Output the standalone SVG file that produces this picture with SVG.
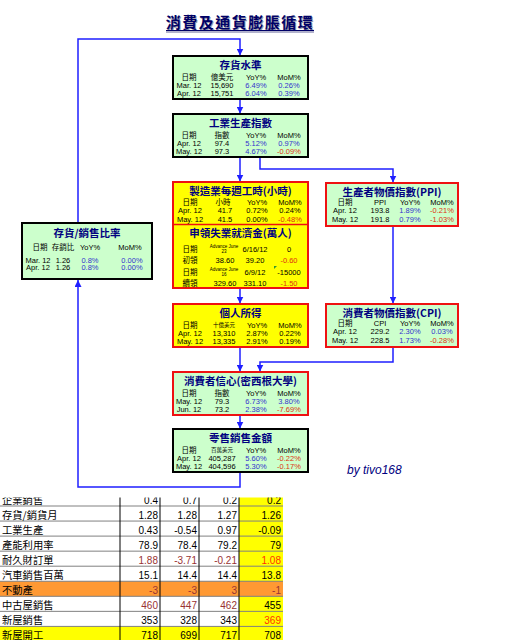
<svg xmlns="http://www.w3.org/2000/svg" width="528" height="640" viewBox="0 0 528 640">
<defs>
<style>
.bg{fill:#ccffcc;stroke:#000;stroke-width:2}
.bgr{fill:#ccffcc;stroke:#ee1111;stroke-width:2}
.by{fill:#ffff00;stroke:#ee1111;stroke-width:2}
.t{font-family:"Noto Sans CJK TC",sans-serif;font-weight:bold;font-size:10.5px;fill:#000080;text-anchor:middle}
.h{font-family:"Liberation Sans","Noto Sans CJK TC",sans-serif;font-size:7.5px;fill:#000;text-anchor:middle}
.tiny{font-family:"Liberation Sans","Noto Sans CJK TC",sans-serif;font-size:4.5px;fill:#000;text-anchor:middle}
.b{fill:#3333cc}
.r{fill:#dd3311}
.con{fill:none;stroke:#1f1fff;stroke-width:1.5;marker-end:url(#ah)}
.lab{font-family:"Noto Sans CJK TC",sans-serif;font-size:10.3px;fill:#000}
.num{font-family:"Liberation Sans",sans-serif;font-size:10px;fill:#000;text-anchor:end}
.dr{fill:#993333}
.or{fill:#ff3300}
.rl{stroke:#808080;stroke-width:1}
.vl{stroke:#000;stroke-width:1}
</style>
<marker id="ah" markerWidth="7" markerHeight="7" refX="7" refY="3.5" orient="auto" markerUnits="userSpaceOnUse">
<path d="M0,0 L7,3.5 L0,7 z" fill="#1f1fff"/>
</marker>
<clipPath id="tc"><rect x="0" y="497.5" width="528" height="143"/></clipPath>
</defs>
<rect width="528" height="640" fill="#fff"/>

<g id="title">
<text x="241" y="29" font-family="'Noto Sans CJK TC',sans-serif" font-weight="bold" font-size="15" letter-spacing="1.5" fill="#9999aa" text-anchor="middle">消費及通貨膨脹循環</text>
<text x="240" y="28" font-family="'Noto Sans CJK TC',sans-serif" font-weight="bold" font-size="15" letter-spacing="1.5" fill="#000066" text-anchor="middle">消費及通貨膨脹循環</text>
<line x1="166" y1="32" x2="314" y2="32" stroke="#9999bb" stroke-width="1.5"/>
<line x1="166" y1="30.5" x2="314" y2="30.5" stroke="#000066" stroke-width="1.2"/>
</g>

<g id="connectors">
<path class="con" d="M78,223 V39 H240 V55.5"/>
<path class="con" d="M240,99 V113.5"/>
<path class="con" d="M240,157 V181.5"/>
<path class="con" d="M260,157 V169 H393 V182.5"/>
<path class="con" d="M393,226 V303.5"/>
<path class="con" d="M240,288 V303.5"/>
<path class="con" d="M240,347 V371.5"/>
<path class="con" d="M393,347 V362 H260 V371.5"/>
<path class="con" d="M240,415 V428.5"/>
<path class="con" d="M240,472 V487 H78 V280"/>
</g>

<g id="inventory-level">
<rect class="bg" x="173" y="56" width="135" height="43"/>
<text class="t" x="240.5" y="69">存貨水準</text>
<text class="h" y="79.5"><tspan x="189">日期</tspan><tspan x="222">億美元</tspan><tspan x="256">YoY%</tspan><tspan x="289">MoM%</tspan></text>
<text class="h" y="87.5"><tspan x="189">Mar. 12</tspan><tspan x="222">15,690</tspan><tspan x="256" class="b">6.49%</tspan><tspan x="289" class="b">0.26%</tspan></text>
<text class="h" y="96"><tspan x="189">Apr. 12</tspan><tspan x="222">15,751</tspan><tspan x="256" class="b">6.04%</tspan><tspan x="289" class="b">0.39%</tspan></text>
</g>

<g id="industrial-production">
<rect class="bg" x="173" y="114" width="135" height="43"/>
<text class="t" x="240.5" y="127">工業生產指數</text>
<text class="h" y="137.5"><tspan x="189">日期</tspan><tspan x="222">指數</tspan><tspan x="256">YoY%</tspan><tspan x="289">MoM%</tspan></text>
<text class="h" y="145.5"><tspan x="189">Apr. 12</tspan><tspan x="222">97.4</tspan><tspan x="256" class="b">5.12%</tspan><tspan x="289" class="b">0.97%</tspan></text>
<text class="h" y="154"><tspan x="189">May. 12</tspan><tspan x="222">97.3</tspan><tspan x="256" class="b">4.67%</tspan><tspan x="289" class="r">-0.09%</tspan></text>
</g>

<g id="hours-claims">
<rect class="by" x="173" y="182" width="135" height="106"/>
<line x1="173" y1="224.5" x2="308" y2="224.5" stroke="#ee1111" stroke-width="1.5"/>
<text class="t" x="240.5" y="194.5">製造業每週工時(小時)</text>
<text class="h" y="204.5"><tspan x="190">日期</tspan><tspan x="223">小時</tspan><tspan x="257">YoY%</tspan><tspan x="290">MoM%</tspan></text>
<text class="h" y="213"><tspan x="190">Apr. 12</tspan><tspan x="225">41.7</tspan><tspan x="257">0.72%</tspan><tspan x="290">0.24%</tspan></text>
<text class="h" y="221.5"><tspan x="190">May. 12</tspan><tspan x="225">41.5</tspan><tspan x="257">0.00%</tspan><tspan x="290" class="r">-0.48%</tspan></text>
<text class="t" x="240.5" y="237">申領失業就濟金(萬人)</text>
<text class="h" y="252"><tspan x="190">日期</tspan><tspan x="255">6/16/12</tspan><tspan x="289">0</tspan></text>
<text class="tiny" y="248"><tspan x="224">Advance June</tspan><tspan x="224" dy="5">23</tspan></text>
<text class="h" y="263"><tspan x="190">初領</tspan><tspan x="225">38.60</tspan><tspan x="255">39.20</tspan><tspan x="289" class="r">-0.60</tspan></text>
<text class="h" y="274.5"><tspan x="190">日期</tspan><tspan x="255">6/9/12</tspan><tspan x="289">-15000</tspan></text>
<text class="tiny" y="270.5"><tspan x="224">Advance June</tspan><tspan x="224" dy="5">16</tspan></text>
<polygon points="274,266 277,266 274,269" fill="#339933"/>
<text class="h" y="285.5"><tspan x="190">續領</tspan><tspan x="225">329.60</tspan><tspan x="255">331.10</tspan><tspan x="289" class="r">-1.50</tspan></text>
</g>

<g id="personal-income">
<rect class="by" x="173" y="304" width="135" height="43"/>
<text class="t" x="240.5" y="317">個人所得</text>
<text class="h" y="327.5"><tspan x="190">日期</tspan><tspan x="257">YoY%</tspan><tspan x="290">MoM%</tspan></text>
<text class="h" y="327" style="font-size:5.5px"><tspan x="224">十億美元</tspan></text>
<text class="h" y="335.5"><tspan x="190">Apr. 12</tspan><tspan x="224">13,310</tspan><tspan x="257">2.87%</tspan><tspan x="290">0.22%</tspan></text>
<text class="h" y="344"><tspan x="190">May. 12</tspan><tspan x="224">13,335</tspan><tspan x="257">2.91%</tspan><tspan x="290">0.19%</tspan></text>
</g>

<g id="ppi">
<rect class="bgr" x="326" y="183" width="132" height="43"/>
<text class="t" x="392" y="195.5">生產者物價指數(PPI)</text>
<text class="h" y="204.5"><tspan x="345">日期</tspan><tspan x="380">PPI</tspan><tspan x="410">YoY%</tspan><tspan x="442">MoM%</tspan></text>
<text class="h" y="213"><tspan x="345">Apr. 12</tspan><tspan x="380">193.8</tspan><tspan x="410" class="b">1.89%</tspan><tspan x="442" class="r">-0.21%</tspan></text>
<text class="h" y="221.5"><tspan x="345">May. 12</tspan><tspan x="380">191.8</tspan><tspan x="410" class="b">0.79%</tspan><tspan x="442" class="r">-1.03%</tspan></text>
</g>

<g id="cpi">
<rect class="bgr" x="326" y="304" width="132" height="43"/>
<text class="t" x="392" y="316.5">消費者物價指數(CPI)</text>
<text class="h" y="325.5"><tspan x="345">日期</tspan><tspan x="380">CPI</tspan><tspan x="410">YoY%</tspan><tspan x="442">MoM%</tspan></text>
<text class="h" y="334"><tspan x="345">Apr. 12</tspan><tspan x="380">229.2</tspan><tspan x="410" class="b">2.30%</tspan><tspan x="442" class="b">0.03%</tspan></text>
<text class="h" y="342.5"><tspan x="345">May. 12</tspan><tspan x="380">228.5</tspan><tspan x="410" class="b">1.73%</tspan><tspan x="442" class="r">-0.28%</tspan></text>
</g>

<g id="consumer-sentiment">
<rect class="bgr" x="173" y="372" width="135" height="43"/>
<text class="t" x="240.5" y="385">消費者信心(密西根大學)</text>
<text class="h" y="395.5"><tspan x="189">日期</tspan><tspan x="222">指數</tspan><tspan x="256">YoY%</tspan><tspan x="289">MoM%</tspan></text>
<text class="h" y="403.5"><tspan x="189">May. 12</tspan><tspan x="222">79.3</tspan><tspan x="256" class="b">6.73%</tspan><tspan x="289" class="b">3.80%</tspan></text>
<text class="h" y="412"><tspan x="189">Jun. 12</tspan><tspan x="222">73.2</tspan><tspan x="256" class="b">2.38%</tspan><tspan x="289" class="r">-7.69%</tspan></text>
</g>

<g id="retail-sales">
<rect class="bg" x="173" y="429" width="135" height="43"/>
<text class="t" x="240.5" y="442">零售銷售金額</text>
<text class="h" y="452.5"><tspan x="189">日期</tspan><tspan x="256">YoY%</tspan><tspan x="289">MoM%</tspan></text>
<text class="h" y="452" style="font-size:5.5px"><tspan x="222">百萬美元</tspan></text>
<text class="h" y="460.5"><tspan x="189">Apr. 12</tspan><tspan x="222">405,287</tspan><tspan x="256" class="b">5.60%</tspan><tspan x="289" class="r">-0.22%</tspan></text>
<text class="h" y="469"><tspan x="189">May. 12</tspan><tspan x="222">404,596</tspan><tspan x="256" class="b">5.30%</tspan><tspan x="289" class="r">-0.17%</tspan></text>
</g>

<g id="inventory-sales-ratio">
<rect class="bg" x="22" y="223" width="130" height="56"/>
<text class="t" x="87" y="237">存貨/銷售比率</text>
<text class="h" y="250"><tspan x="40">日期</tspan><tspan x="63">存銷比</tspan><tspan x="90">YoY%</tspan><tspan x="130">MoM%</tspan></text>
<text class="h" y="262.5"><tspan x="38">Mar. 12</tspan><tspan x="63">1.26</tspan><tspan x="90" class="b">0.8%</tspan><tspan x="132" class="b">0.00%</tspan></text>
<text class="h" y="270"><tspan x="38">Apr. 12</tspan><tspan x="63">1.26</tspan><tspan x="90" class="b">0.8%</tspan><tspan x="132" class="b">0.00%</tspan></text>
</g>

<text x="347" y="474" font-family="'Liberation Sans',sans-serif" font-style="italic" font-size="12" fill="#000080">by tivo168</text>

<g id="table" clip-path="url(#tc)">
<rect x="239" y="491" width="44" height="150" fill="#ffff00"/>
<rect x="0" y="581.25" width="283" height="15.05" fill="#ff9933"/>
<rect x="0" y="626.4" width="283" height="15.05" fill="#ffff00"/>
<g class="rl">
<line x1="0" y1="506" x2="283" y2="506"/>
<line x1="0" y1="521.05" x2="283" y2="521.05"/>
<line x1="0" y1="536.1" x2="283" y2="536.1"/>
<line x1="0" y1="551.15" x2="283" y2="551.15"/>
<line x1="0" y1="566.2" x2="283" y2="566.2"/>
<line x1="0" y1="581.25" x2="283" y2="581.25"/>
<line x1="0" y1="596.3" x2="283" y2="596.3"/>
<line x1="0" y1="611.35" x2="283" y2="611.35"/>
<line x1="0" y1="626.4" x2="283" y2="626.4"/>
</g>
<g class="vl">
<line x1="120" y1="491" x2="120" y2="641"/>
<line x1="160" y1="491" x2="160" y2="641"/>
<line x1="199" y1="491" x2="199" y2="641"/>
<line x1="239" y1="491" x2="239" y2="641"/>
</g>
<g class="lab">
<text x="2" y="504">企業銷售</text>
<text x="2" y="519">存貨/銷貨月</text>
<text x="2" y="534">工業生產</text>
<text x="2" y="549">產能利用率</text>
<text x="2" y="564">耐久財訂單</text>
<text x="2" y="579">汽車銷售百萬</text>
<text x="2" y="594">不動產</text>
<text x="2" y="609">中古屋銷售</text>
<text x="2" y="623.5">新屋銷售</text>
<text x="2" y="638.5">新屋開工</text>
</g>
<g class="num">
<text y="504"><tspan x="158">0.4</tspan><tspan x="197">0.7</tspan><tspan x="237">0.2</tspan><tspan x="281">0.2</tspan></text>
<text y="519"><tspan x="158">1.28</tspan><tspan x="197">1.28</tspan><tspan x="237">1.27</tspan><tspan x="281">1.26</tspan></text>
<text y="534"><tspan x="158">0.43</tspan><tspan x="197">-0.54</tspan><tspan x="237">0.97</tspan><tspan x="281">-0.09</tspan></text>
<text y="549"><tspan x="158">78.9</tspan><tspan x="197">78.4</tspan><tspan x="237">79.2</tspan><tspan x="281">79</tspan></text>
<text y="564"><tspan x="158" class="dr">1.88</tspan><tspan x="197" class="dr">-3.71</tspan><tspan x="237" class="dr">-0.21</tspan><tspan x="281" class="or">1.08</tspan></text>
<text y="579"><tspan x="158">15.1</tspan><tspan x="197">14.4</tspan><tspan x="237">14.4</tspan><tspan x="281">13.8</tspan></text>
<text y="594"><tspan x="158" class="dr">-3</tspan><tspan x="197" class="dr">-3</tspan><tspan x="237" class="dr">3</tspan><tspan x="281" class="dr">-1</tspan></text>
<text y="609"><tspan x="158" class="dr">460</tspan><tspan x="197" class="dr">447</tspan><tspan x="237" class="dr">462</tspan><tspan x="281">455</tspan></text>
<text y="623.5"><tspan x="158">353</tspan><tspan x="197">328</tspan><tspan x="237">343</tspan><tspan x="281" class="or">369</tspan></text>
<text y="638.5"><tspan x="158">718</tspan><tspan x="197">699</tspan><tspan x="237">717</tspan><tspan x="281">708</tspan></text>
</g>
</g>
</svg>
